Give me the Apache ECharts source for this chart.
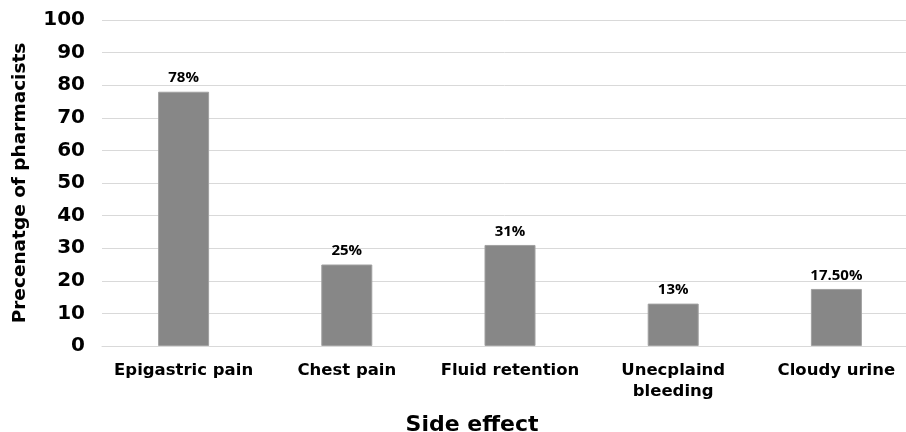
<!DOCTYPE html>
<html>
<head>
<meta charset="utf-8">
<script src="https://cdn.jsdelivr.net/npm/echarts@6/dist/echarts.min.js"></script>
<style>
  html, body { margin: 0; padding: 0; background: #ffffff; }
  #chart { width: 906px; height: 432px; }
</style>
</head>
<body>
<div id="chart"></div>
<script>
    const categories = ['Epigastric pain', 'Chest pain', 'Fluid retention', 'Unecplaind\nbleeding', 'Cloudy urine'];
    const values = [78, 25, 31, 13, 17.5];
    const valueLabels = ['78%', '25%', '31%', '13%', '17.50%'];

    const chart = echarts.init(document.getElementById('chart'));
    chart.setOption({
        backgroundColor: '#ffffff',
        animation: false,
        grid: {
            top: 20,
            left: 102,
            right: -12,
            bottom: 86,
            containLabel: false,
            outerBoundsMode: 'none'
        },
        xAxis: {
            type: 'category',
            data: categories,
            name: 'Side effect',
            nameLocation: 'middle',
            nameGap: 68,
            nameTextStyle: {
                fontFamily: 'DejaVu Sans',
                fontWeight: 'bold',
                fontSize: 22,
                color: '#000000',
                padding: [0, 76, 0, 0]
            },
            axisLine: {show: true, lineStyle: {color: '#d9d9d9', width: 1}},
            axisTick: {show: false},
            axisLabel: {
                margin: 14,
                fontFamily: 'DejaVu Sans',
                fontWeight: 'bold',
                fontSize: 16.5,
                lineHeight: 21,
                color: '#000000',
                interval: 0
            }
        },
        yAxis: {
            type: 'value',
            min: 0,
            max: 100,
            interval: 10,
            name: 'Precenatge of pharmacists',
            nameLocation: 'middle',
            nameGap: 72,
            nameTextStyle: {
                fontFamily: 'DejaVu Sans',
                fontWeight: 'bold',
                fontSize: 18.5,
                color: '#000000'
            },
            axisLine: {show: false},
            axisTick: {show: false},
            axisLabel: {
                margin: 17,
                fontFamily: 'DejaVu Sans',
                fontWeight: 'bold',
                fontSize: 20,
                color: '#000000'
            },
            splitLine: {show: true, lineStyle: {color: '#d9d9d9', width: 1}}
        },
        series: [{
            type: 'bar',
            data: values,
            barWidth: 51,
            itemStyle: {
                color: '#878787',
                borderColor: '#a0a0a0',
                borderWidth: 1
            },
            label: {
                show: true,
                position: 'top',
                distance: 6,
                fontFamily: 'Open Sans',
                fontWeight: 'bold',
                fontSize: 15,
                color: '#000000',
                formatter: p => valueLabels[p.dataIndex]
            }
        }]
    });
</script>
</body>
</html>
